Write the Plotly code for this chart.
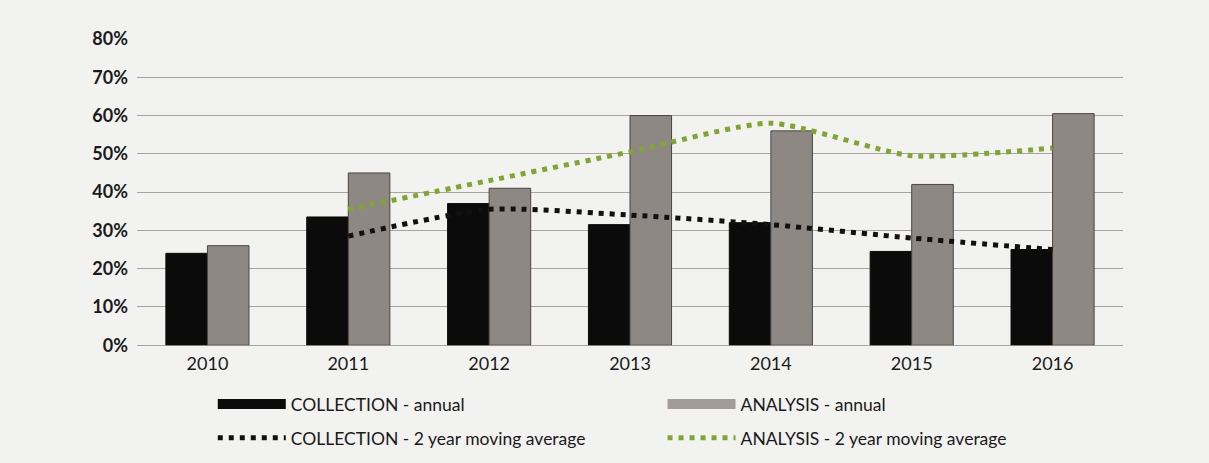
import plotly.graph_objects as go

years = ["2010", "2011", "2012", "2013", "2014", "2015", "2016"]
collection_annual = [0.24, 0.335, 0.37, 0.315, 0.32, 0.245, 0.25]
analysis_annual = [0.26, 0.45, 0.41, 0.60, 0.56, 0.42, 0.605]
ma_years = ["2011", "2012", "2013", "2014", "2015", "2016"]
collection_ma = [0.285, 0.355, 0.34, 0.315, 0.28, 0.25]
analysis_ma = [0.355, 0.43, 0.505, 0.58, 0.495, 0.515]
y_ticks = [0, 0.1, 0.2, 0.3, 0.4, 0.5, 0.6, 0.7, 0.8]

FONT = "Lato"
BLACK = "#0b0b0b"
GREY = "#8e8885"
GREEN = "#7fa62e"

fig = go.Figure()
fig.add_trace(go.Bar(x=years, y=collection_annual, name="COLLECTION - annual",
                     marker=dict(color=BLACK, line=dict(color=BLACK, width=1)),
                     showlegend=False))
fig.add_trace(go.Bar(x=years, y=analysis_annual, name="ANALYSIS - annual",
                     marker=dict(color=GREY, line=dict(color="#4a4543", width=1)),
                     showlegend=False))
fig.add_trace(go.Scatter(x=ma_years, y=collection_ma, name="COLLECTION - 2 year moving average",
                         mode="lines", line=dict(color="#111111", width=5, dash="5px,6px",
                                                 shape="spline", smoothing=0.6),
                         legend="legend3"))
fig.add_trace(go.Scatter(x=ma_years, y=analysis_ma, name="ANALYSIS - 2 year moving average",
                         mode="lines", line=dict(color=GREEN, width=5, dash="5px,6px",
                                                 shape="spline", smoothing=0.6),
                         legend="legend4"))
# legend-only entries for the bars (wide rectangle swatches as in the reference)
fig.add_trace(go.Scatter(x=[None], y=[None], mode="lines", name="COLLECTION - annual",
                         line=dict(color=BLACK, width=14), legend="legend"))
fig.add_trace(go.Scatter(x=[None], y=[None], mode="lines", name="ANALYSIS - annual",
                         line=dict(color="#a19c99", width=14), legend="legend2"))

def leg(x, y):
    return dict(orientation="h", x=x, y=y, xref="container", yref="container",
                xanchor="left", yanchor="middle",
                itemwidth=68, bgcolor="rgba(0,0,0,0)",
                font=dict(family=FONT, size=17.5, color="#1a1a1a"), itemclick=False)

fig.update_layout(
    width=1209, height=463,
    margin=dict(l=137, r=86, t=39, b=116),
    paper_bgcolor="#f2f2f0", plot_bgcolor="#f2f2f0",
    barmode="group", bargap=0.41, bargroupgap=0,
    font=dict(family=FONT, color="#1a1a1a"),
    legend=leg(0.176, 0.127),
    legend2=leg(0.548, 0.127),
    legend3=leg(0.176, 0.054),
    legend4=leg(0.548, 0.054),
    showlegend=True,
)
fig.update_xaxes(tickfont=dict(family=FONT, size=18, color="#1a1a1a"), showgrid=False,
                 showline=False, ticks="", ticklabelstandoff=6)
fig.update_yaxes(range=[0, 0.8], tickvals=y_ticks, tickformat=".0%",
                 tickfont=dict(family=FONT, size=18, color="#1a1a1a", weight="bold"),
                 showgrid=True, gridcolor="#aaa49f", gridwidth=1.1,
                 zeroline=True, zerolinecolor="#aaa49f", zerolinewidth=1.1, ticks="",
                 ticklabelstandoff=8)

fig.write_html("out.html")
